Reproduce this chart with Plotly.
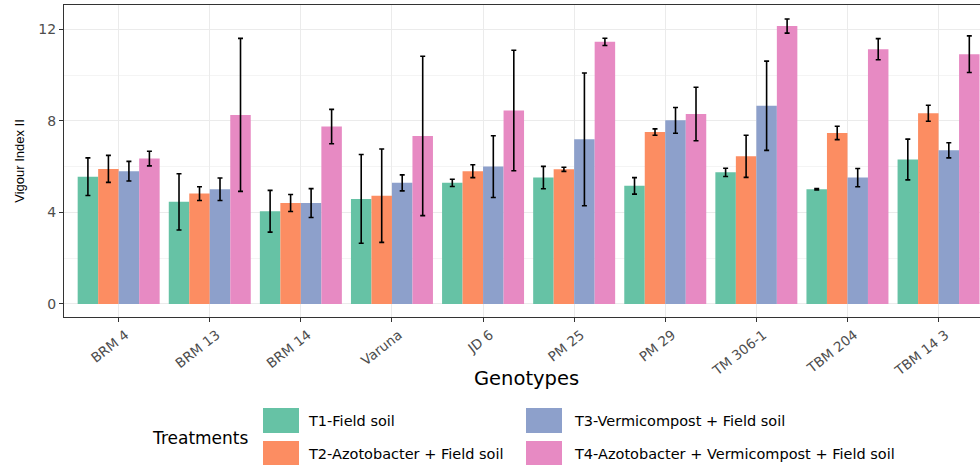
import plotly.graph_objects as go

genotypes = ["BRM 4", "BRM 13", "BRM 14", "Varuna", "JD 6", "PM 25", "PM 29",
             "TM 306-1", "TBM 204", "TBM 14 3"]
treatments = ["T1-Field soil", "T2-Azotobacter + Field soil",
              "T3-Vermicompost + Field soil",
              "T4-Azotobacter + Vermicompost + Field soil"]

t1_mean = [5.56, 4.46, 4.05, 4.59, 5.29, 5.52, 5.16, 5.75, 5.01, 6.31]
t2_mean = [5.90, 4.82, 4.41, 4.73, 5.80, 5.88, 7.51, 6.45, 7.47, 8.33]
t3_mean = [5.80, 5.01, 4.41, 5.29, 6.00, 7.19, 8.02, 8.66, 5.52, 6.71]
t4_mean = [6.35, 8.26, 7.75, 7.34, 8.45, 11.45, 8.30, 12.14, 11.13, 10.91]

t1_se = [0.82, 1.23, 0.91, 1.94, 0.16, 0.49, 0.36, 0.18, 0.03, 0.89]
t2_se = [0.59, 0.30, 0.37, 2.04, 0.28, 0.09, 0.14, 0.92, 0.29, 0.35]
t3_se = [0.43, 0.49, 0.63, 0.35, 1.35, 2.90, 0.56, 1.95, 0.40, 0.33]
t4_se = [0.32, 3.34, 0.75, 3.48, 2.63, 0.16, 1.17, 0.31, 0.46, 0.80]

y_ticks = [0, 4, 8, 12]

colors = ["#66C2A5", "#FC8D62", "#8DA0CB", "#E78AC3"]
means = [t1_mean, t2_mean, t3_mean, t4_mean]
ses = [t1_se, t2_se, t3_se, t4_se]

W, H = 980, 465
ML, MR, MT, MB = 64, 0, 5, 148
PW, PH = W - ML - MR, H - MT - MB


def px(x):
    return (x - ML) / PW


def py(y):
    return (H - MB - y) / PH


fig = go.Figure()
for name, m, s, c in zip(treatments, means, ses, colors):
    fig.add_trace(go.Bar(
        x=genotypes, y=m, name=name, marker_color=c, marker_line_width=0,
        showlegend=False,
        error_y=dict(type="data", array=s, color="black", thickness=1.6, width=2.5),
    ))

font = "Liberation Sans, Arial, sans-serif"
wide = "DejaVu Sans, Verdana, sans-serif"

fig.update_layout(
    width=W, height=H,
    margin=dict(l=ML, r=MR, t=MT, b=MB, pad=0),
    paper_bgcolor="white", plot_bgcolor="white",
    barmode="group", bargap=0.1, bargroupgap=0,
    font=dict(family=wide, color="#4d4d4d"),
    xaxis=dict(
        range=[-0.6, -0.6 + PW / 91.1],
        showgrid=True, gridcolor="#ebebeb", gridwidth=1,
        showline=True, linecolor="#333333", linewidth=1, mirror=True,
        ticks="outside", ticklen=4, tickcolor="#333333",
        tickangle=-38, ticklabelshift=7,
        tickfont=dict(size=13.5, color="#4d4d4d", family=wide),
        zeroline=False,
    ),
    yaxis=dict(
        range=[-0.57, 13.06],
        tickvals=y_ticks, ticktext=[str(v) for v in y_ticks],
        showgrid=True, gridcolor="#ebebeb", gridwidth=1,
        minor=dict(tickvals=[2, 6, 10], showgrid=True, gridcolor="#f4f4f4", gridwidth=1, ticks=""),
        showline=True, linecolor="#333333", linewidth=1,
        ticks="outside", ticklen=4, tickcolor="#333333",
        tickfont=dict(size=14, color="#4d4d4d", family=wide),
        title=dict(text="Vigour Index II", font=dict(size=13, color="black", family=font), standoff=10),
        zeroline=False,
    ),
)

# x-axis title and legend (ggplot-style, two columns)
key_x = [263, 263, 526, 526]
key_y = [408, 441, 408, 441]
text_x = [306, 306, 572, 572]
shapes = []
annotations = [dict(xref="paper", yref="paper", x=px(526), y=py(378),
                    text="Genotypes", showarrow=False,
                    xanchor="center", yanchor="middle",
                    font=dict(size=19.5, color="black", family=wide))]
for i, (name, c) in enumerate(zip(treatments, colors)):
    shapes.append(dict(type="rect", xref="paper", yref="paper",
                       x0=px(key_x[i]), x1=px(key_x[i] + 36),
                       y0=py(key_y[i]), y1=py(key_y[i] + 25),
                       fillcolor=c, line=dict(width=0), layer="above"))
    annotations.append(dict(xref="paper", yref="paper", x=px(text_x[i]),
                            y=py(key_y[i] + 13), text=name, showarrow=False,
                            xanchor="left", yanchor="middle",
                            font=dict(size=14.5, color="black", family=wide)))
annotations.append(dict(xref="paper", yref="paper", x=px(150), y=py(438),
                        text="Treatments", showarrow=False,
                        xanchor="left", yanchor="middle",
                        font=dict(size=17, color="black", family=wide)))
fig.update_layout(shapes=shapes, annotations=annotations)

fig.write_html("out.html")
